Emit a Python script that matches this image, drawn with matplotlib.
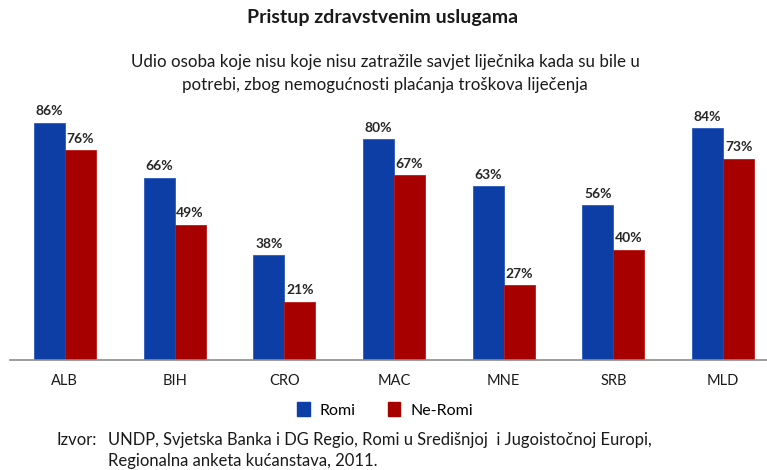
import matplotlib
matplotlib.use("Agg")
import matplotlib.pyplot as plt
import numpy as np
from matplotlib.patches import Patch

categories = ["ALB", "BIH", "CRO", "MAC", "MNE", "SRB", "MLD"]
romi = [86, 66, 38, 80, 63, 56, 84]
ne_romi = [76, 49, 21, 67, 27, 40, 73]
series_names = ["Romi", "Ne-Romi"]

plt.rcParams['font.family'] = ['Lato', 'DejaVu Sans']

blue = '#0c3ea6'
red = '#a60000'

fig = plt.figure(figsize=(7.67, 4.70), dpi=100)
ax = fig.add_axes([10/767, 1-360/470, 757/767, (360-84)/470])

x = np.arange(len(categories))
w = 0.283
b1 = ax.bar(x - w/2, romi, w, color=blue, edgecolor='#2a5bc0', linewidth=0.6)
b2 = ax.bar(x + w/2, ne_romi, w, color=red, edgecolor='#b81a1a', linewidth=0.6)

for bars, vals in ((b1, romi), (b2, ne_romi)):
    for rect, v in zip(bars, vals):
        ax.annotate(f"{v}%", (rect.get_x() + rect.get_width()/2, v),
                    xytext=(0, 4), textcoords='offset points',
                    ha='center', va='bottom', fontsize=10, fontweight='bold',
                    color='#262626')

ax.set_xlim(-0.5, 6.4)
ax.set_ylim(0, 100)
ax.set_yticks([])
ax.set_xticks(x)
ax.set_xticklabels(categories, fontsize=10.5, color='#1a1a1a')
ax.tick_params(axis='x', length=0, pad=10)
for s in ['top', 'right', 'left']:
    ax.spines[s].set_visible(False)
ax.spines['bottom'].set_color('#8c8c8c')
ax.spines['bottom'].set_linewidth(1.2)

fig.text(383/767, 1-18/470, "Pristup zdravstvenim uslugama", ha='center', va='center',
         fontsize=14, fontweight='bold', color='#1a1a1a')
fig.text(385/767, 1-62/470, "Udio osoba koje nisu koje nisu zatražile savjet liječnika kada su bile u",
         ha='center', va='center', fontsize=12.2, color='#1a1a1a')
fig.text(385/767, 1-85/470, "potrebi, zbog nemogućnosti plaćanja troškova liječenja",
         ha='center', va='center', fontsize=12.2, color='#1a1a1a')

handles = [Patch(facecolor=blue, edgecolor=blue), Patch(facecolor=red, edgecolor=red)]
fig.legend(handles, series_names, loc='center', bbox_to_anchor=(385/767, 1-410/470),
           ncol=2, frameon=False, fontsize=11.5, handlelength=0.8, handleheight=0.9,
           handletextpad=0.6, columnspacing=2.0)

fig.text(57/767, 1-440/470, "Izvor:", ha='left', va='center', fontsize=12, color='#1a1a1a')
fig.text(108/767, 1-440/470, "UNDP, Svjetska Banka i DG Regio, Romi u Središnjoj  i Jugoistočnoj Europi,",
         ha='left', va='center', fontsize=11.9, color='#1a1a1a')
fig.text(108/767, 1-461/470, "Regionalna anketa kućanstava, 2011.",
         ha='left', va='center', fontsize=12, color='#1a1a1a')

fig.savefig("out.png", dpi=100)
